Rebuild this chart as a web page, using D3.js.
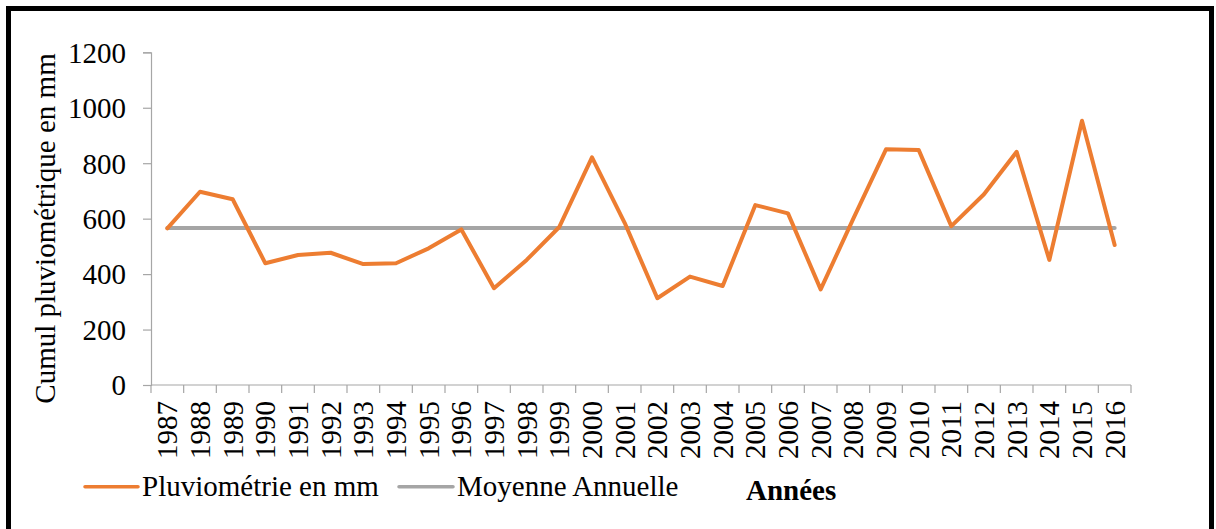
<!DOCTYPE html>
<html>
<head>
<meta charset="utf-8">
<script src="https://cdn.jsdelivr.net/npm/d3@7"></script>
<style>
html,body{margin:0;padding:0;background:#fff;}
svg{display:block;}
text{font-family:"Liberation Serif","Times New Roman",serif;fill:#000;}
</style>
</head>
<body>
<svg id="chart" width="1216" height="529"></svg>
<script>
const years = ["1987","1988","1989","1990","1991","1992","1993","1994","1995","1996","1997","1998","1999","2000","2001","2002","2003","2004","2005","2006","2007","2008","2009","2010","2011","2012","2013","2014","2015","2016"];
const pluviometrie = [565,697,670,439,469,477,436,439,493,561,349,451,570,821,585,313,391,357,649,619,345,600,850,848,573,688,841,451,953,505];
const moyenne = years.map(() => 566);
const yTicks = [0,200,400,600,800,1000,1200];
const seriesNames = ["Pluviométrie en mm","Moyenne Annuelle"];
const colors = ["#ed7d31","#a5a5a5"];

const svg = d3.select("#chart");

// frame
svg.append("rect").attr("x",8.5).attr("y",8.5).attr("width",1203).attr("height",540)
  .attr("fill","none").attr("stroke","#000").attr("stroke-width",5);

const pLeft = 151, pRight = 1131, pTop = 52.3, pBottom = 385;
const x = d3.scaleBand().domain(years).range([pLeft,pRight]).padding(0);
const y = d3.scaleLinear().domain([0,1200]).range([pBottom,pTop]);

// y axis
const yAxis = svg.append("g").attr("transform",`translate(${pLeft},0)`)
  .call(d3.axisLeft(y).tickValues(yTicks).tickSize(8).tickPadding(17).tickFormat(d3.format("d")));
yAxis.select(".domain").attr("stroke","#a6a6a6").attr("stroke-width",1.2);
yAxis.selectAll(".tick line").attr("stroke","#a6a6a6").attr("stroke-width",1.2);
yAxis.selectAll(".tick text").style("font-size","29px").style("font-family","Liberation Serif").attr("fill","#000").attr("dy","0.34em");

// x axis (ticks between categories)
const xg = svg.append("g");
xg.append("line").attr("x1",pLeft).attr("x2",pRight).attr("y1",pBottom).attr("y2",pBottom)
  .attr("stroke","#a6a6a6").attr("stroke-width",1.2);
const boundaries = years.map(d => x(d)).concat([x(years[years.length-1]) + x.bandwidth()]);
xg.selectAll("line.tk").data(boundaries).enter().append("line").attr("class","tk")
  .attr("x1",d=>d).attr("x2",d=>d).attr("y1",pBottom).attr("y2",pBottom+8)
  .attr("stroke","#a6a6a6").attr("stroke-width",1.2);
xg.selectAll("text").data(years).enter().append("text")
  .attr("transform",d=>`translate(${x(d)+x.bandwidth()/2+10},${pBottom+16}) rotate(-90)`)
  .attr("text-anchor","end").style("font-size","29px").text(d=>d);

// lines
const cx = d => x(d) + x.bandwidth()/2;
const line = d3.line().x((d,i)=>cx(years[i])).y(d=>y(d));
svg.append("path").datum(moyenne).attr("d",line).attr("fill","none")
  .attr("stroke",colors[1]).attr("stroke-width",4).attr("stroke-linecap","round");
svg.append("path").datum(pluviometrie).attr("d",line).attr("fill","none")
  .attr("stroke",colors[0]).attr("stroke-width",4).attr("stroke-linejoin","round").attr("stroke-linecap","round");

// y title
svg.append("text").attr("transform","translate(55,228.5) rotate(-90)")
  .attr("text-anchor","middle").style("font-size","29px").text("Cumul pluviométrique en mm");

// legend
const leg = [{x1:85,x2:138,tx:142},{x1:399,x2:453,tx:457}];
leg.forEach((l,i)=>{
  svg.append("line").attr("x1",l.x1).attr("x2",l.x2).attr("y1",486.7).attr("y2",486.7)
    .attr("stroke",colors[i]).attr("stroke-width",3.5).attr("stroke-linecap","round");
  svg.append("text").attr("x",l.tx).attr("y",496).style("font-size","29px").text(seriesNames[i]);
});
svg.append("text").attr("x",746).attr("y",500).style("font-size","29px").style("font-weight","bold").text("Années");
</script>
</body>
</html>
